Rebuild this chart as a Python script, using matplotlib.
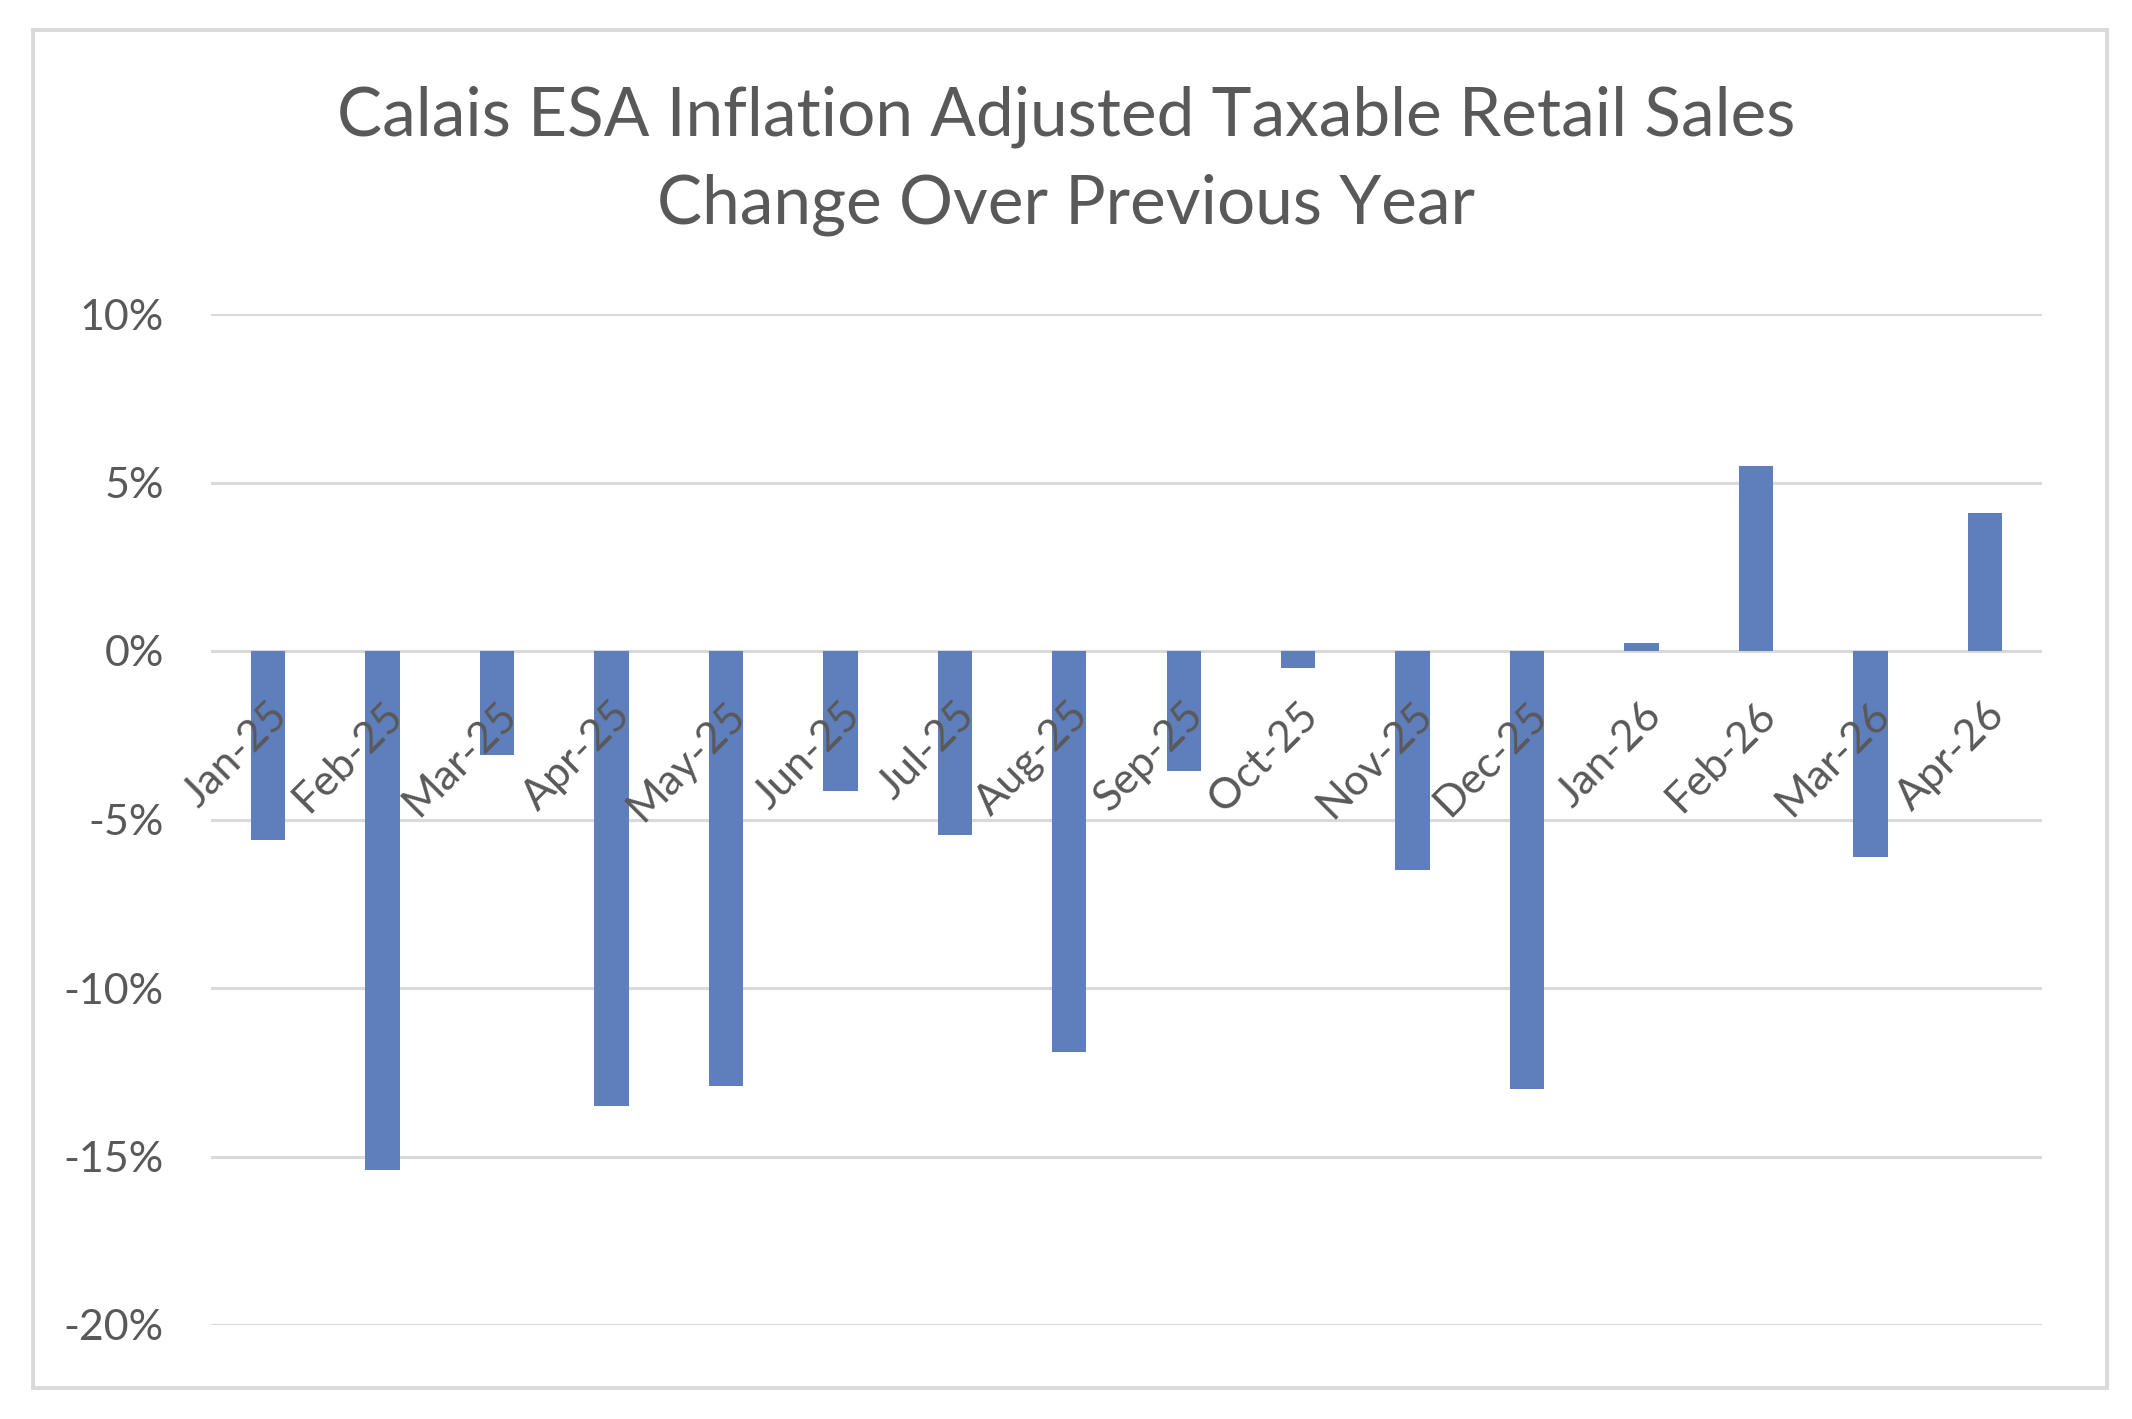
import matplotlib
matplotlib.use("Agg")
import matplotlib.pyplot as plt
import matplotlib.transforms as mtransforms
from matplotlib.patches import Rectangle

months = ["Jan-25", "Feb-25", "Mar-25", "Apr-25", "May-25", "Jun-25", "Jul-25", "Aug-25",
          "Sep-25", "Oct-25", "Nov-25", "Dec-25", "Jan-26", "Feb-26", "Mar-26", "Apr-26"]
change_pct = [-5.6, -15.4, -3.1, -13.5, -12.9, -4.15, -5.45, -11.9,
              -3.55, -0.5, -6.5, -13.0, 0.25, 5.5, -6.1, 4.1]
y_ticks = [-20, -15, -10, -5, 0, 5, 10]
y_tick_labels = ["-20%", "-15%", "-10%", "-5%", "0%", "5%", "10%"]

title_1 = "Calais ESA Inflation Adjusted Taxable Retail Sales"
title_2 = "Change Over Previous Year"

W, H = 2132, 1419
dpi = 200
bar_color = "#5E7EBC"
grid_color = "#d9d9d9"
text_color = "#595959"
font = "Lato"

fig = plt.figure(figsize=(W / dpi, H / dpi), dpi=dpi)
fig.patch.set_facecolor("white")

# outer chart frame like the excel chart area
fig.patches.append(Rectangle((33 / W, 1 - 1388 / H), (2107 - 33) / W, (1388 - 30) / H,
                             transform=fig.transFigure, fill=False,
                             edgecolor=grid_color, linewidth=1.4))

ax = fig.add_axes([211 / W, 1 - 1325 / H, (2042 - 211) / W, (1325 - 314) / H])
x = list(range(len(months)))
ax.bar(x, change_pct, width=0.3, color=bar_color, zorder=2)

ax.set_xlim(-0.5, len(months) - 0.5)
ax.set_ylim(-20, 10)
ax.set_yticks(y_ticks)
ax.set_yticklabels(y_tick_labels, fontsize=15.5, color=text_color, family=font)
ax.set_xticks([])
ax.tick_params(axis="y", length=0, pad=17)
ax.yaxis.grid(True, color=grid_color, linewidth=1.1)
ax.set_axisbelow(True)
for s in ax.spines.values():
    s.set_visible(False)

# category labels sit next to the zero line, rotated
trans = mtransforms.offset_copy(ax.transData, fig=fig, x=0, y=-16, units="points")
for xi, lab in zip(x, months):
    ax.text(xi, 0, lab, rotation=45, ha="right", va="top", rotation_mode="anchor",
            transform=trans, fontsize=15.5, color=text_color, family=font)

fig.text(0.5, 1 - 136 / H, title_1, ha="center", va="baseline",
         fontsize=24.3, color=text_color, family=font)
fig.text(0.5, 1 - 224 / H, title_2, ha="center", va="baseline",
         fontsize=24.3, color=text_color, family=font)

fig.savefig("out.png", dpi=dpi)
